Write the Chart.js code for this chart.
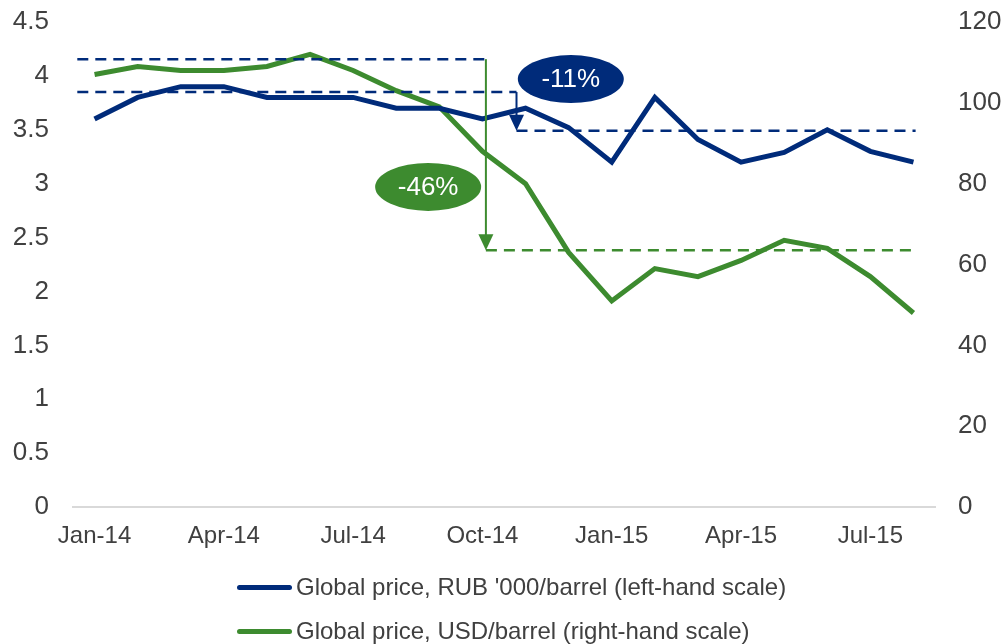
<!DOCTYPE html>
<html>
<head>
<meta charset="utf-8">
<script src="https://cdn.jsdelivr.net/npm/chart.js@4/dist/chart.umd.min.js"></script>
<style>
  body { margin: 0; background: #fff; }
  #wrap { position: relative; width: 1004px; height: 644px; }
  #legend { position: absolute; left: 237px; top: 565px; font-family: "Liberation Sans", Arial, sans-serif; font-size: 24px; color: #404040; }
  .item { display: flex; align-items: center; height: 44px; }
  .swatch { width: 55px; height: 5px; border-radius: 3px; margin-right: 4px; }
</style>
</head>
<body>
<div id="wrap">
  <canvas id="chart" width="1004" height="644"></canvas>
  <div id="legend"></div>
</div>
<script>
// months on the x axis
const months = ['Jan-14','Feb-14','Mar-14','Apr-14','May-14','Jun-14','Jul-14','Aug-14','Sep-14','Oct-14','Nov-14','Dec-14',
                'Jan-15','Feb-15','Mar-15','Apr-15','May-15','Jun-15','Jul-15','Aug-15'];
// RUB '000 per barrel (left)
const rubPrice = [3.6, 3.8, 3.9, 3.9, 3.8, 3.8, 3.8, 3.7, 3.7, 3.6, 3.7, 3.52, 3.2, 3.8, 3.41, 3.2, 3.29, 3.5, 3.3, 3.2];
// USD per barrel (right)
const usdPrice = [107, 109, 108, 108, 109, 112, 108, 103, 99, 88, 80, 63, 51, 59, 57, 61, 66, 64, 57, 48];

const leftTicks = [0, 0.5, 1, 1.5, 2, 2.5, 3, 3.5, 4, 4.5];
const rightTicks = [0, 20, 40, 60, 80, 100, 120];

const seriesNames = ["Global price, RUB '000/barrel (left-hand scale)", 'Global price, USD/barrel (right-hand scale)'];

const blue = '#002B7A';
const green = '#3D8B2F';

// annotation guides, in data units (x = month index)
const dashLines = [
  { axis: 'y',  from: -0.4, to: 9.08,  value: 4.155, color: blue },
  { axis: 'y',  from: -0.4, to: 9.79,  value: 3.85,  color: blue },
  { axis: 'y',  from: 9.79, to: 19.05, value: 3.49,  color: blue },
  { axis: 'y2', from: 9.08, to: 19.05, value: 63.5,  color: green }
];
const arrows = [
  { axis: 'y2', x: 9.08, from: 110.8, to: 63.5, color: green },
  { axis: 'y',  x: 9.79, from: 3.85,  to: 3.49, color: blue }
];
const bubbles = [
  { axis: 'y', x: 11.05, value: 3.97, text: '-11%', color: blue },
  { axis: 'y', x: 7.74,  value: 2.97, text: '-46%', color: green }
];

const guides = {
  id: 'guides',
  afterDatasetsDraw(chart) {
    const ctx = chart.ctx;
    const xs = chart.scales.x;
    ctx.save();
    ctx.lineWidth = 2.5;
    ctx.setLineDash([11, 7]);
    dashLines.forEach(d => {
      const ys = chart.scales[d.axis];
      const y = ys.getPixelForValue(d.value);
      ctx.strokeStyle = d.color;
      ctx.beginPath();
      ctx.moveTo(xs.getPixelForValue(d.from), y);
      ctx.lineTo(xs.getPixelForValue(d.to), y);
      ctx.stroke();
    });
    ctx.setLineDash([]);
    ctx.lineWidth = 2;
    arrows.forEach(a => {
      const ys = chart.scales[a.axis];
      const x = xs.getPixelForValue(a.x);
      const y1 = ys.getPixelForValue(a.from);
      const y2 = ys.getPixelForValue(a.to);
      ctx.strokeStyle = a.color;
      ctx.fillStyle = a.color;
      ctx.beginPath();
      ctx.moveTo(x, y1);
      ctx.lineTo(x, y2 - 14);
      ctx.stroke();
      ctx.beginPath();
      ctx.moveTo(x - 7.5, y2 - 16);
      ctx.lineTo(x + 7.5, y2 - 16);
      ctx.lineTo(x, y2);
      ctx.closePath();
      ctx.fill();
    });
    bubbles.forEach(b => {
      const ys = chart.scales[b.axis];
      const x = xs.getPixelForValue(b.x);
      const y = ys.getPixelForValue(b.value);
      ctx.fillStyle = b.color;
      ctx.beginPath();
      ctx.ellipse(x, y, 53, 24, 0, 0, Math.PI * 2);
      ctx.fill();
      ctx.fillStyle = '#fff';
      ctx.font = '26px "Liberation Sans", Arial, sans-serif';
      ctx.textAlign = 'center';
      ctx.textBaseline = 'middle';
      ctx.fillText(b.text, x, y + 1);
    });
    ctx.restore();
  }
};

const tickFont = { family: '"Liberation Sans", Arial, sans-serif', size: 26 };

new Chart(document.getElementById('chart'), {
  type: 'line',
  data: {
    labels: months,
    datasets: [
      { label: seriesNames[0], data: rubPrice, yAxisID: 'y', borderColor: blue, backgroundColor: blue, borderWidth: 5, pointRadius: 0, tension: 0 },
      { label: seriesNames[1], data: usdPrice, yAxisID: 'y2', borderColor: green, backgroundColor: green, borderWidth: 5, pointRadius: 0, tension: 0 }
    ]
  },
  options: {
    responsive: false,
    animation: false,
    layout: { padding: { left: 12, right: 3, top: 22, bottom: 93 } },
    plugins: { legend: { display: false }, tooltip: { enabled: false } },
    scales: {
      x: {
        offset: true,
        grid: { display: false, drawTicks: false },
        border: { display: true, color: '#D9D9D9', width: 2 },
        afterFit: s => { s.height = 44; s.paddingLeft = 0; s.paddingRight = 0; },
        ticks: {
          autoSkip: false, maxRotation: 0, padding: 15, color: '#404040',
          font: { family: tickFont.family, size: 24 },
          callback: (v, i) => (i % 3 === 0 ? months[i] : '')
        }
      },
      y: {
        position: 'left', min: 0, max: 4.5,
        grid: { display: false, drawTicks: false },
        border: { display: false },
        afterBuildTicks: s => { s.ticks = leftTicks.map(v => ({ value: v })); },
        afterFit: s => { s.width = 61; s.paddingTop = 0; s.paddingBottom = 0; },
        ticks: { padding: 24, color: '#404040', font: tickFont, callback: v => String(v) }
      },
      y2: {
        position: 'right', min: 0, max: 120,
        grid: { display: false, drawTicks: false },
        border: { display: false },
        afterBuildTicks: s => { s.ticks = rightTicks.map(v => ({ value: v })); },
        afterFit: s => { s.width = 66; s.paddingTop = 0; s.paddingBottom = 0; },
        ticks: { padding: 23, color: '#404040', font: tickFont, callback: v => String(v) }
      }
    }
  },
  plugins: [guides]
});

const legend = document.getElementById('legend');
[blue, green].forEach((c, i) => {
  const row = document.createElement('div');
  row.className = 'item';
  row.innerHTML = '<span class="swatch" style="background:' + c + '"></span><span>' + seriesNames[i] + '</span>';
  legend.appendChild(row);
});
</script>
</body>
</html>
